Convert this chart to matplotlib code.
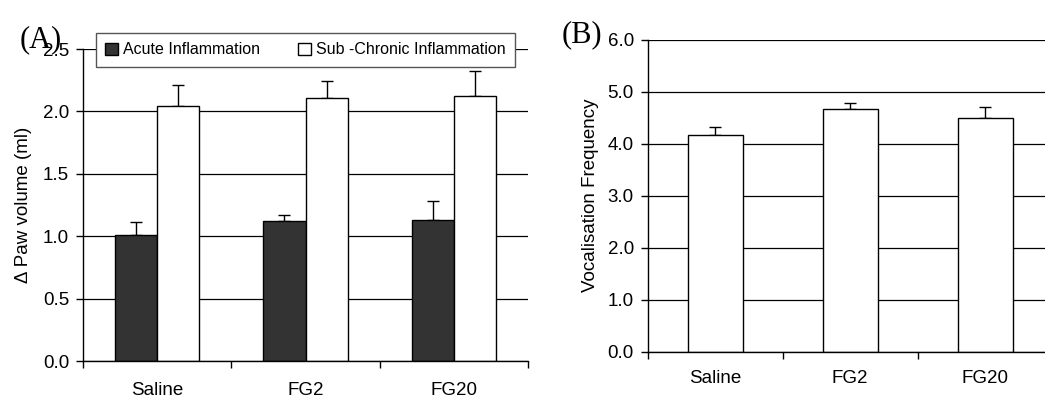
import numpy as np
import matplotlib.pyplot as plt
from matplotlib.ticker import FixedLocator, NullFormatter

plt.rcParams['font.family'] = ['Liberation Sans', 'DejaVu Sans']

groups = ["Saline", "FG2", "FG20"]

# (A) paw oedema
acute_mean = [1.01, 1.12, 1.13]
acute_sem = [0.10, 0.05, 0.15]
chronic_mean = [2.04, 2.11, 2.12]
chronic_sem = [0.17, 0.13, 0.20]

# (B) vocalisation
vocal_mean = [4.17, 4.66, 4.50]
vocal_sem = [0.16, 0.13, 0.21]

FS = 13.5


def style_axes(ax, ymax, step):
    ax.set_xlim(0, len(groups))
    ax.set_ylim(0, ymax)
    ticks = np.arange(0, ymax + step / 2, step)
    ax.set_yticks(ticks)
    ax.set_yticklabels([f"{v:.1f}" for v in ticks])
    ax.yaxis.grid(True, color='black', linewidth=0.9)
    ax.set_axisbelow(True)
    for s in ['top', 'right']:
        ax.spines[s].set_visible(False)
    for s in ['left', 'bottom']:
        ax.spines[s].set_linewidth(1.0)
    # group labels in the middle, ticks on the group boundaries
    ax.set_xticks(np.arange(len(groups)) + 0.5)
    ax.set_xticklabels(groups)
    ax.xaxis.set_minor_locator(FixedLocator(np.arange(len(groups) + 1)))
    ax.xaxis.set_minor_formatter(NullFormatter())
    ax.tick_params(axis='x', which='major', length=0, labelsize=FS)
    ax.tick_params(axis='x', which='minor', length=5, width=1.0, direction='out')
    ax.tick_params(axis='y', length=5, width=1.0, direction='out', labelsize=FS, pad=5)


fig = plt.figure(figsize=(10.45, 4.0), dpi=100)

# panel A
axA = fig.add_axes([0.0794, 0.0975, 0.4259, 0.78])
x = np.arange(len(groups)) + 0.5
w = 0.284
axA.bar(x - w / 2, acute_mean, w, color='#333333', edgecolor='black', linewidth=1.0,
        label='Acute Inflammation', zorder=2)
axA.bar(x + w / 2, chronic_mean, w, color='white', edgecolor='black', linewidth=1.0,
        label='Sub -Chronic Inflammation', zorder=2)
axA.errorbar(x - w / 2, acute_mean, yerr=[np.zeros(3), acute_sem], fmt='none',
             ecolor='black', elinewidth=1.0, capsize=4, capthick=1.0, zorder=1)
axA.errorbar(x + w / 2, chronic_mean, yerr=[np.zeros(3), chronic_sem], fmt='none',
             ecolor='black', elinewidth=1.0, capsize=4, capthick=1.0, zorder=1)
style_axes(axA, 2.5, 0.5)
axA.tick_params(axis='x', which='major', pad=15)
axA.set_ylabel("Δ Paw volume (ml)", fontsize=FS, labelpad=8)

leg = fig.legend(loc='center', bbox_to_anchor=(0.2922, 0.875), ncol=2, fontsize=11.5,
                 frameon=True, fancybox=False, edgecolor='#555555', framealpha=1,
                 handlelength=0.8, handleheight=0.8, handletextpad=0.3,
                 columnspacing=2.4, borderpad=0.6)
leg.get_frame().set_linewidth(1.0)

fig.text(0.019, 0.882, "(A)", fontsize=22, family=['Liberation Serif', 'DejaVu Serif'],
         va='baseline', ha='left')

# panel B
axB = fig.add_axes([0.6198, 0.12075, 0.3876, 0.78])
wb = 0.405
axB.bar(x, vocal_mean, wb, color='white', edgecolor='black', linewidth=1.0, zorder=2)
axB.errorbar(x, vocal_mean, yerr=[np.zeros(3), vocal_sem], fmt='none',
             ecolor='black', elinewidth=1.0, capsize=4, capthick=1.0, zorder=1)
style_axes(axB, 6.0, 1.0)
axB.tick_params(axis='x', which='major', pad=13)
axB.set_ylabel("Vocalisation Frequency", fontsize=FS, labelpad=6)

fig.text(0.537, 0.895, "(B)", fontsize=22, family=['Liberation Serif', 'DejaVu Serif'],
         va='baseline', ha='left')

fig.savefig("out.png", dpi=100)
